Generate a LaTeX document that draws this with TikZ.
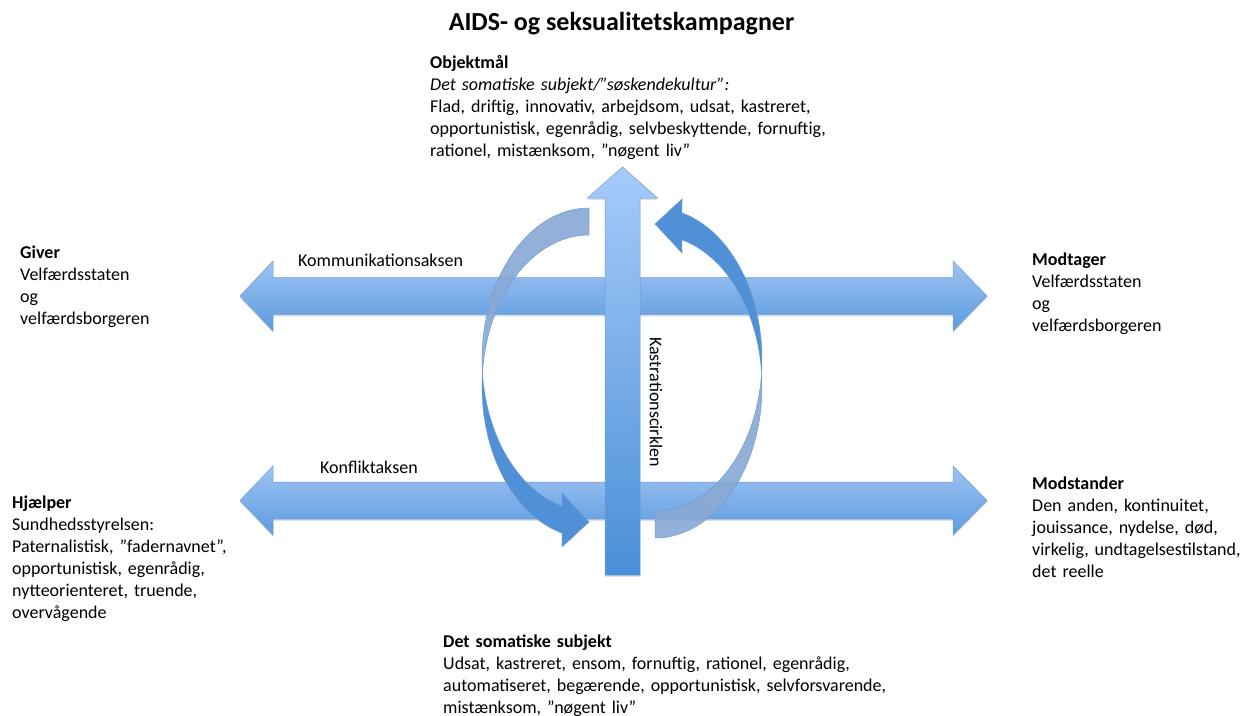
\documentclass[tikz,border=0pt]{standalone}
\usepackage{fontspec}
\setmainfont{Carlito}
\usetikzlibrary{shadows}
\definecolor{hlight}{HTML}{9EC3F2}
\definecolor{hdark}{HTML}{5C9BE0}
\definecolor{vlight}{HTML}{A6CBF9}
\definecolor{vdark}{HTML}{4A8FD8}
\definecolor{edgeblue}{HTML}{6E9CD4}
\definecolor{frontblue}{HTML}{5090D7}
\definecolor{backblue}{HTML}{8AA9D5}
\begin{document}
\begin{tikzpicture}[x=1pt,y=-1pt,
  txt/.style={anchor=base west, inner sep=0pt, align=left, text width=#1,
    font=\fontsize{18}{22}\selectfont},
  txt/.default=600pt,
  lbl/.style={anchor=base west, inner sep=0pt, font=\fontsize{18}{22}\selectfont},
  harrow/.style={top color=hlight, bottom color=hdark, draw=edgeblue, line width=0.5pt,
    drop shadow={shadow xshift=0pt, shadow yshift=-2pt, opacity=0.25}},
  varrow/.style={top color=vlight, bottom color=vdark, draw=edgeblue, line width=0.5pt,
    drop shadow={shadow xshift=0pt, shadow yshift=-2pt, opacity=0.25}},
  frontpart/.style={fill=frontblue, draw=edgeblue, line width=0.5pt},
  backpart/.style={fill=backblue, fill opacity=0.92, draw=edgeblue, line width=0.5pt}]
\useasboundingbox (0,0) rectangle (1245,715);

% horizontal double arrows
\path[harrow] (240,296) -- (273,261) -- (273,277.5) -- (953,277.5) -- (953,261) -- (987,296)
  -- (953,331) -- (953,314.5) -- (273,314.5) -- (273,331) -- cycle;
\path[harrow] (240,500.5) -- (273,466) -- (273,482) -- (953,482) -- (953,466) -- (987,500.5)
  -- (953,535) -- (953,519) -- (273,519) -- (273,535) -- cycle;

% vertical arrow
\path[varrow] (622.5,167) -- (657.5,198) -- (640,198) -- (640,575) -- (605,575) -- (605,198)
  -- (587.5,198) -- cycle;

% curved arrows (left one, and the same turned half round)
\foreach \r in {0,180}{
\begin{scope}[rotate around={\r:(622,373)}]
\path[backpart] plot[domain=270:174.9, samples=40] ({589+107*cos(\x)},{359.5+151.5*sin(\x)})
  -- plot[domain=185.11:270, samples=40] ({589+107*cos(\x)},{386.5+151.5*sin(\x)}) -- cycle;
\path[frontpart] plot[domain=185.11:104.6, samples=40] ({589+107*cos(\x)},{386.5+151.5*sin(\x)})
  -- (562,547) -- (589,522) -- (562,493)
  -- plot[domain=104.6:174.9, samples=40] ({589+107*cos(\x)},{359.5+151.5*sin(\x)}) -- cycle;
\end{scope}
}

% texts
\node[anchor=base, inner sep=0pt, font=\bfseries\fontsize{26}{30}\selectfont] (title) at (621.5,30)
  {AIDS- og seksualitetskampagner};

\node[txt] (objekt) at (430,68) {\textbf{Objektmål}\\
  \textit{Det somatiske subjekt/”søskendekultur”:}\\
  Flad, driftig, innovativ, arbejdsom, udsat, kastreret,\\
  opportunistisk, egenrådig, selvbeskyttende, fornuftig,\\
  rationel, mistænksom, ”nøgent liv”};

\node[txt=200pt] (giver) at (20,258) {\textbf{Giver}\\ Velfærdsstaten\\ og\\ velfærdsborgeren};

\node[txt=210pt] (modtager) at (1032,265) {\textbf{Modtager}\\ Velfærdsstaten\\ og\\ velfærdsborgeren};

\node[txt=240pt] (hjaelper) at (12,508) {\textbf{Hjælper}\\ Sundhedsstyrelsen:\\
  Paternalistisk, ”fadernavnet”,\\ opportunistisk, egenrådig,\\ nytteorienteret, truende,\\ overvågende};

\node[txt=212pt] (modstander) at (1032,489) {\textbf{Modstander}\\ Den anden, kontinuitet,\\
  jouissance, nydelse, død,\\ virkelig, undtagelsestilstand,\\ det reelle};

\node[txt] (somatisk) at (443,647) {\textbf{Det somatiske subjekt}\\
  Udsat, kastreret, ensom, fornuftig, rationel, egenrådig,\\
  automatiseret, begærende, opportunistisk, selvforsvarende,\\
  mistænksom, ”nøgent liv”};

\node[lbl] (komm) at (298,266) {Kommunikationsaksen};
\node[lbl] (konf) at (320,473) {Konfliktaksen};
\node[inner sep=0pt, rotate=-90, font=\fontsize{18}{22}\selectfont] (kast) at (656,402) {Kastrationscirklen};
\end{tikzpicture}
\end{document}
